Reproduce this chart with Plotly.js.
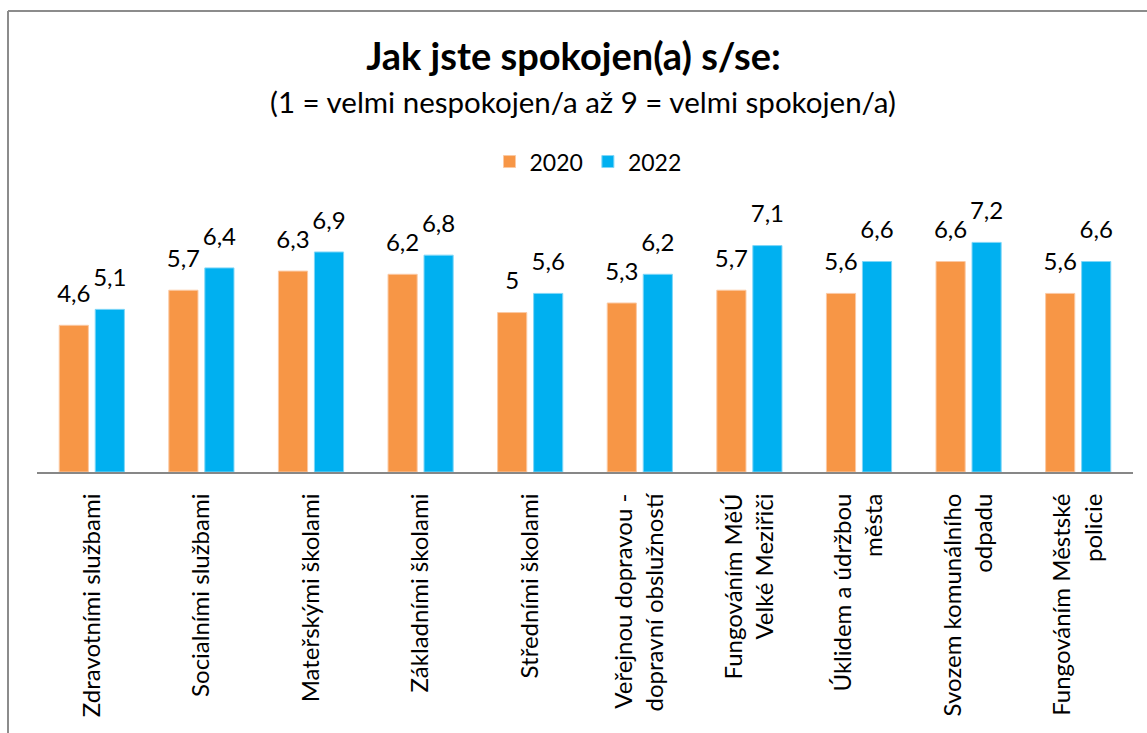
<!DOCTYPE html>
<html>
<head>
<meta charset="utf-8">
<script src="https://cdn.plot.ly/plotly-3.0.1.min.js"></script>
<style>html,body{margin:0;padding:0;background:#fff;}#chart{width:1147px;height:733px;}</style>
</head>
<body>
<div id="chart"></div>
<script>
const categories = [
  "Zdravotními službami",
  "Socialními službami",
  "Mateřskými školami",
  "Základními školami",
  "Středními školami",
  "Veřejnou dopravou -<br>dopravní obslužností",
  "Fungováním MěÚ<br>Velké Meziřiči",
  "Úklidem a údržbou<br>města",
  "Svozem komunálního<br>odpadu",
  "Fungováním Městské<br>policie"
];
const values2020 = [4.6, 5.7, 6.3, 6.2, 5.0, 5.3, 5.7, 5.6, 6.6, 5.6];
const values2022 = [5.1, 6.4, 6.9, 6.8, 5.6, 6.2, 7.1, 6.6, 7.2, 6.6];
const seriesNames = ["2020", "2022"];

const FONT = "Lato, 'Open Sans', sans-serif";
const fmt = v => String(v).replace('.', ',');
const colors = ['#F79646', '#00B0F0'];
const edge = ['#FBC9A3', '#7FD6F7'];
const series = [values2020, values2022];

const traces = [];
series.forEach((vals, i) => {
  traces.push({type:'bar', name:seriesNames[i], x:categories, y:vals,
    offsetgroup:String(i),
    marker:{color:colors[i], line:{color:edge[i], width:1}}, hoverinfo:'y'});
});
series.forEach((vals, i) => {
  traces.push({type:'scatter', mode:'markers+text', x:categories, y:vals,
    offsetgroup:String(i), showlegend:false, cliponaxis:false,
    text: vals.map(fmt), textposition:'top center',
    textfont:{size:24, color:'#000', family:FONT},
    marker:{size:26, opacity:0, color:colors[i]}, hoverinfo:'skip'});
});

// plot area: x 37..1133, y 184.5..472.5
const L = 37, W = 1096, T = 184.5, H = 288;
const px2x = p => (p - L) / W;
const py2y = p => (T + H - p) / H;

const layout = {
  width:1147, height:733,
  margin:{l:L, r:1147 - L - W, t:T, b:733 - T - H},
  paper_bgcolor:'#fff', plot_bgcolor:'#fff',
  font:{family:FONT, color:'#000'},
  title:{text:'<b>Jak jste spokojen(a) s/se:</b>', font:{size:38, family:FONT, color:'#000'},
         x:0.5, xanchor:'center', xref:'container', y:1 - 57/733, yanchor:'middle', yref:'container'},
  annotations:[{text:'(1 = velmi nespokojen/a až 9 = velmi spokojen/a)', showarrow:false,
    xref:'paper', yref:'paper', x:px2x(583), y:py2y(101), xanchor:'center', yanchor:'middle',
    font:{size:29.5, family:FONT, color:'#000'}}],
  showlegend:true,
  legend:{orientation:'h', x:px2x(588), xanchor:'center', y:py2y(161), yanchor:'middle',
    font:{size:23, family:FONT, color:'#000'}, itemwidth:30, traceorder:'normal'},
  barmode:'group', bargap:0.343, bargroupgap:0.19,
  scattermode:'group', scattergap:0.343,
  xaxis:{type:'category', tickangle:-90, showline:true, linecolor:'#878787', linewidth:2,
    ticks:'', ticklabelstandoff:10, tickfont:{size:24, family:FONT, color:'#000'},
    showgrid:false, zeroline:false, fixedrange:true},
  yaxis:{range:[0, 9], visible:false, showgrid:false, zeroline:false, fixedrange:true},
  shapes:[
    {type:'line', xref:'paper', yref:'paper', x0:px2x(8), x1:px2x(8), y0:py2y(10), y1:py2y(740),
     line:{color:'#8c8c8c', width:2}},
    {type:'line', xref:'paper', yref:'paper', x0:px2x(8), x1:px2x(1150), y0:py2y(10), y1:py2y(10),
     line:{color:'#8c8c8c', width:2}}
  ]
};

Plotly.newPlot('chart', traces, layout, {displayModeBar:false, staticPlot:true});
</script>
</body>
</html>
